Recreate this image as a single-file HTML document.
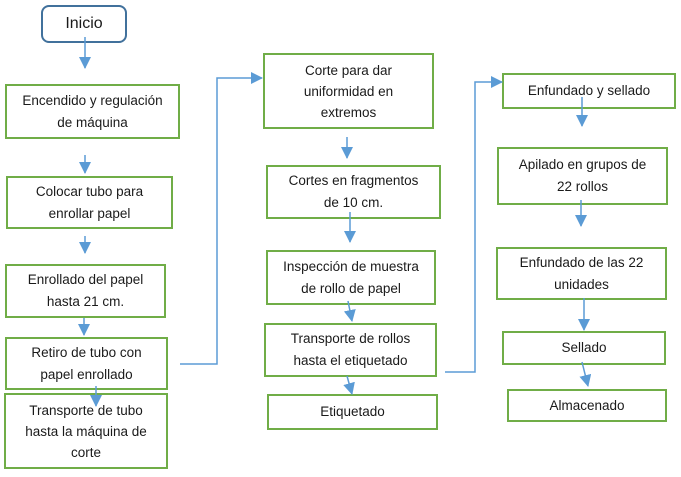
<!DOCTYPE html>
<html><head><meta charset="utf-8"><style>
body{margin:0;width:681px;height:477px;background:#fff;position:relative;overflow:hidden;font-family:"Liberation Sans",sans-serif;}
.b{position:absolute;box-sizing:border-box;border:2px solid #70ad47;display:flex;align-items:center;justify-content:center;text-align:center;font-size:13.5px;line-height:22px;color:#1a1a1a;background:#fff;}
.t{line-height:21px;}
svg{position:absolute;left:0;top:0;}
</style></head><body>
<div class="b" style="left:41px;top:5px;width:86px;height:38px;border-color:#41719c;border-radius:8px;font-size:16px;">Inicio</div>
<div class="b" style="left:5px;top:84px;width:175px;height:55px;">Encendido y regulación<br>de máquina</div>
<div class="b" style="left:6px;top:176px;width:167px;height:53px;">Colocar tubo para<br>enrollar papel</div>
<div class="b" style="left:5px;top:264px;width:161px;height:54px;">Enrollado del papel<br>hasta 21 cm.</div>
<div class="b" style="left:5px;top:337px;width:163px;height:53px;">Retiro de tubo con<br>papel enrollado</div>
<div class="b t" style="left:4px;top:393px;width:164px;height:76px;">Transporte de tubo<br>hasta la máquina de<br>corte</div>

<div class="b t" style="left:263px;top:53px;width:171px;height:76px;">Corte para dar<br>uniformidad en<br>extremos</div>
<div class="b" style="left:266px;top:165px;width:175px;height:54px;">Cortes en fragmentos<br>de 10 cm.</div>
<div class="b" style="left:266px;top:250px;width:170px;height:55px;">Inspección de muestra<br>de rollo de papel</div>
<div class="b" style="left:264px;top:323px;width:173px;height:54px;">Transporte de rollos<br>hasta el etiquetado</div>
<div class="b" style="left:267px;top:394px;width:171px;height:36px;">Etiquetado</div>

<div class="b" style="left:502px;top:73px;width:174px;height:36px;">Enfundado y sellado</div>
<div class="b" style="left:497px;top:147px;width:171px;height:58px;">Apilado en grupos de<br>22 rollos</div>
<div class="b" style="left:496px;top:247px;width:171px;height:53px;">Enfundado de las 22<br>unidades</div>
<div class="b" style="left:502px;top:331px;width:164px;height:34px;">Sellado</div>
<div class="b" style="left:507px;top:389px;width:160px;height:33px;">Almacenado</div>

<svg width="681" height="477" viewBox="0 0 681 477">
<defs><marker id="c" markerWidth="12" markerHeight="12" refX="11" refY="6" orient="auto" markerUnits="userSpaceOnUse"><path d="M0,0L12,6L0,12Z" fill="#5b9bd5"/></marker></defs>
<g stroke="#5b9bd5" stroke-width="1.5" fill="none" marker-end="url(#c)">
<path d="M85,37V68"/>
<path d="M85,155V173"/>
<path d="M85,236V253"/>
<path d="M84,318V335"/>
<path d="M96,386V406"/>
<path d="M347,137V158"/>
<path d="M350,212V242"/>
<path d="M348,301L352,321"/>
<path d="M347,376L352,394"/>
<path d="M582,97V126"/>
<path d="M581,200V226"/>
<path d="M584,298V330"/>
<path d="M582,362L588,386"/>
<path d="M180,364H217V78H262"/>
<path d="M445,372H475V82H502"/>
</g>
</svg>
</body></html>
